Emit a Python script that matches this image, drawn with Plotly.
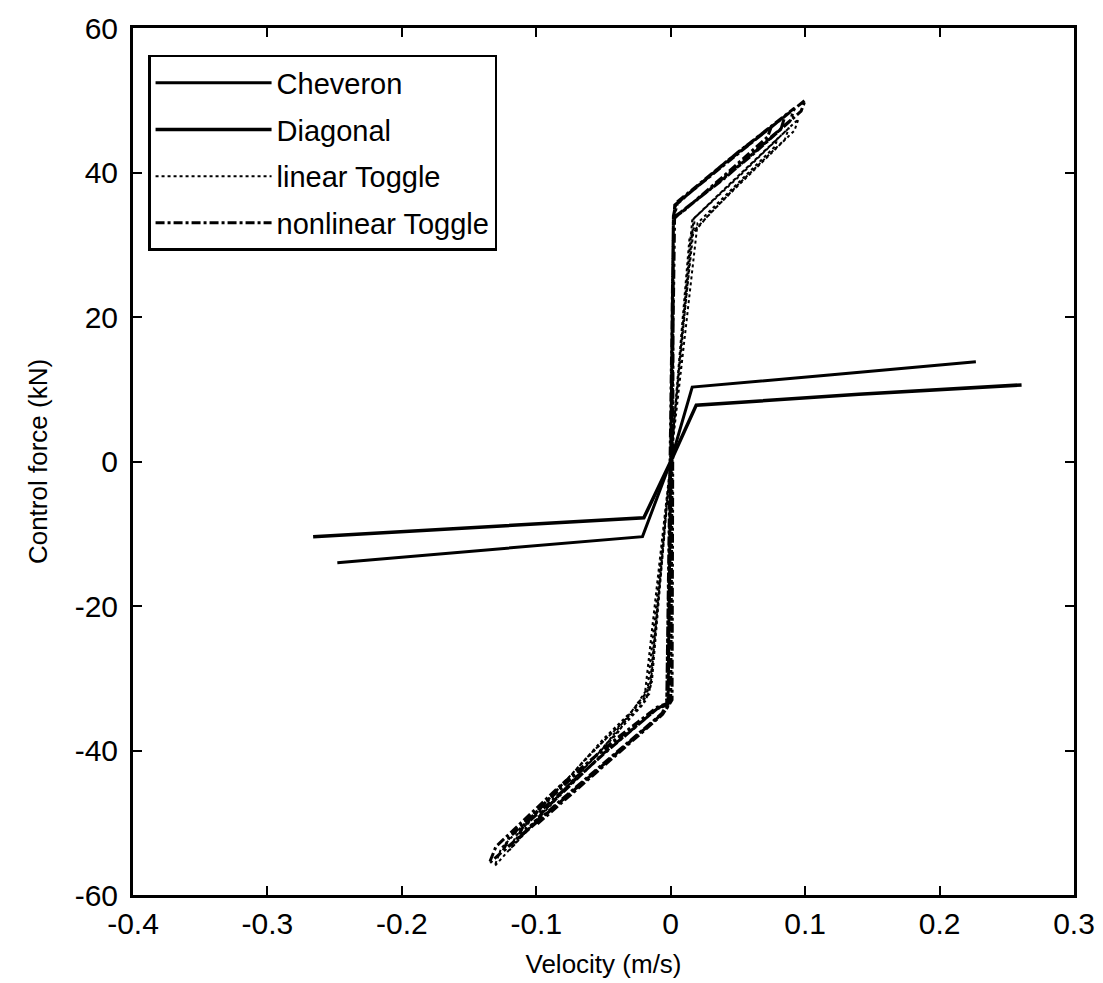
import plotly.graph_objects as go

# ---- data ----
series_names = ["Cheveron", "Diagonal", "linear Toggle", "nonlinear Toggle"]

chev_v = [-0.248, -0.150, -0.021, 0.000, 0.016, 0.120, 0.227]
chev_f = [-14.0, -12.45, -10.4, 0.0, 10.3, 12.0, 13.8]

diag_v = [-0.266, -0.140, -0.020, 0.000, 0.019, 0.140, 0.261]
diag_f = [-10.4, -9.1, -7.8, 0.0, 7.8, 9.3, 10.6]

lin_v = [0.000, 0.008, 0.016, 0.040, 0.070, 0.095, 0.092, 0.060, 0.030, 0.014,
         0.005, -0.005, -0.014, -0.040, -0.080, -0.131, -0.126, -0.080, -0.040,
         -0.016, -0.006, 0.006, 0.018, 0.050, 0.080, 0.077, 0.050, 0.020, 0.000,
         -0.020, -0.060, -0.110, -0.105, -0.060, -0.018, 0.000,
         0.017, 0.050, 0.088, 0.085, 0.050, 0.015, -0.015, -0.050, -0.120,
         -0.115, -0.050, -0.016, 0.000]
lin_f = [0.0, 16.5, 33.4, 37.7, 43.0, 47.4, 45.8, 40.0, 34.5, 31.0,
         11.0, -11.0, -30.5, -37.7, -45.5, -56.0, -53.5, -44.5, -36.8,
         -32.0, -13.0, 13.0, 33.8, 39.5, 44.8, 43.5, 38.5, 33.0, 0.0,
         -33.5, -41.5, -51.5, -49.8, -40.5, -33.0, 0.0,
         33.6, 39.3, 46.2, 44.6, 38.3, 31.5, -31.2, -39.6, -53.8,
         -51.8, -38.4, -32.2, 0.0]

nl_v = [0.000, 0.002, 0.003, 0.030, 0.060, 0.100, 0.097, 0.060, 0.030, 0.008,
        0.002, 0.001, -0.004, -0.006, -0.040, -0.080, -0.135, -0.130, -0.080,
        -0.040, -0.010, -0.003, 0.000, 0.002, 0.005, 0.040, 0.085, 0.082, 0.040,
        0.008, 0.002, -0.003, -0.008, -0.050, -0.115, -0.110, -0.050, -0.010,
        -0.002, 0.002, 0.004, 0.050, 0.092, 0.089, 0.050, 0.010, 0.002, 0.000,
        -0.005, -0.060, -0.125, -0.120, -0.060, -0.012, -0.002, 0.003, 0.040,
        0.075, 0.072, 0.040, 0.009, 0.002, 0.000, -0.006, -0.050, -0.100,
        -0.096, -0.050, -0.010, -0.002, 0.000]
nl_f = [0.0, 33.0, 35.5, 39.6, 44.1, 50.0, 48.5, 42.3, 37.8, 34.5,
        33.8, -33.0, -34.5, -34.8, -40.2, -46.6, -55.6, -53.3, -44.5,
        -38.3, -34.0, -33.5, 0.0, 33.5, 35.8, 41.2, 47.8, 46.0, 39.2,
        34.6, 33.5, -33.8, -35.2, -42.0, -52.4, -50.6, -40.5, -34.2,
        -33.6, 34.0, 35.8, 42.8, 48.9, 47.2, 41.0, 34.8, 33.8, -33.0,
        -34.6, -43.6, -54.0, -52.0, -41.4, -34.4, -33.6, 35.4, 41.3,
        46.4, 44.9, 39.6, 34.6, 33.7, -33.2, -35.0, -42.2, -50.3,
        -48.6, -40.4, -34.2, -33.4, 0.0]

x_ticks = [-0.4, -0.3, -0.2, -0.1, 0.0, 0.1, 0.2, 0.3]
x_labels = ["-0.4", "-0.3", "-0.2", "-0.1", "0", "0.1", "0.2", "0.3"]
y_ticks = [-60, -40, -20, 0, 20, 40, 60]
y_labels = ["-60", "-40", "-20", "0", "20", "40", "60"]

FONT = "Liberation Sans, Arial, sans-serif"

fig = go.Figure()
fig.add_trace(go.Scatter(x=chev_v, y=chev_f, mode="lines", name=series_names[0],
                         line=dict(color="black", width=3), legendgroup="a"))
fig.add_trace(go.Scatter(x=diag_v, y=diag_f, mode="lines", name=series_names[1],
                         line=dict(color="black", width=3.5), legendgroup="b"))
fig.add_trace(go.Scatter(x=lin_v, y=lin_f, mode="lines", name=series_names[2],
                         line=dict(color="black", width=2, dash="dot"), legendgroup="c"))
fig.add_trace(go.Scatter(x=nl_v, y=nl_f, mode="lines", name=series_names[3],
                         line=dict(color="black", width=3, dash="dashdot"), legendgroup="d"))

axis_common = dict(
    showgrid=False, zeroline=False, showline=True, linecolor="black", linewidth=3,
    mirror="allticks", ticks="inside", ticklen=9, tickwidth=2, tickcolor="black",
    tickfont=dict(family=FONT, size=30, color="black"), automargin=False,
)

fig.update_layout(
    width=1095, height=975,
    margin=dict(l=125, r=29, t=20, b=88),
    paper_bgcolor="white", plot_bgcolor="white",
    font=dict(family=FONT, color="black"),
    xaxis=dict(range=[-0.4, 0.3], tickvals=x_ticks, ticktext=x_labels,
               ticklabelstandoff=0,
               title=dict(text="Velocity (m/s)", font=dict(family=FONT, size=26), standoff=16),
               **axis_common),
    yaxis=dict(range=[-60, 60], tickvals=y_ticks, ticktext=y_labels,
               ticklabelstandoff=6,
               title=dict(text="Control force (kN)", font=dict(family=FONT, size=26), standoff=20),
               **axis_common),
    legend=dict(x=0.016, y=0.969, xanchor="left", yanchor="top",
                bgcolor="white", bordercolor="black", borderwidth=2.5,
                font=dict(family=FONT, size=29, color="black"),
                tracegroupgap=6, itemwidth=116),
    showlegend=True,
)

fig.write_html("out.html")
